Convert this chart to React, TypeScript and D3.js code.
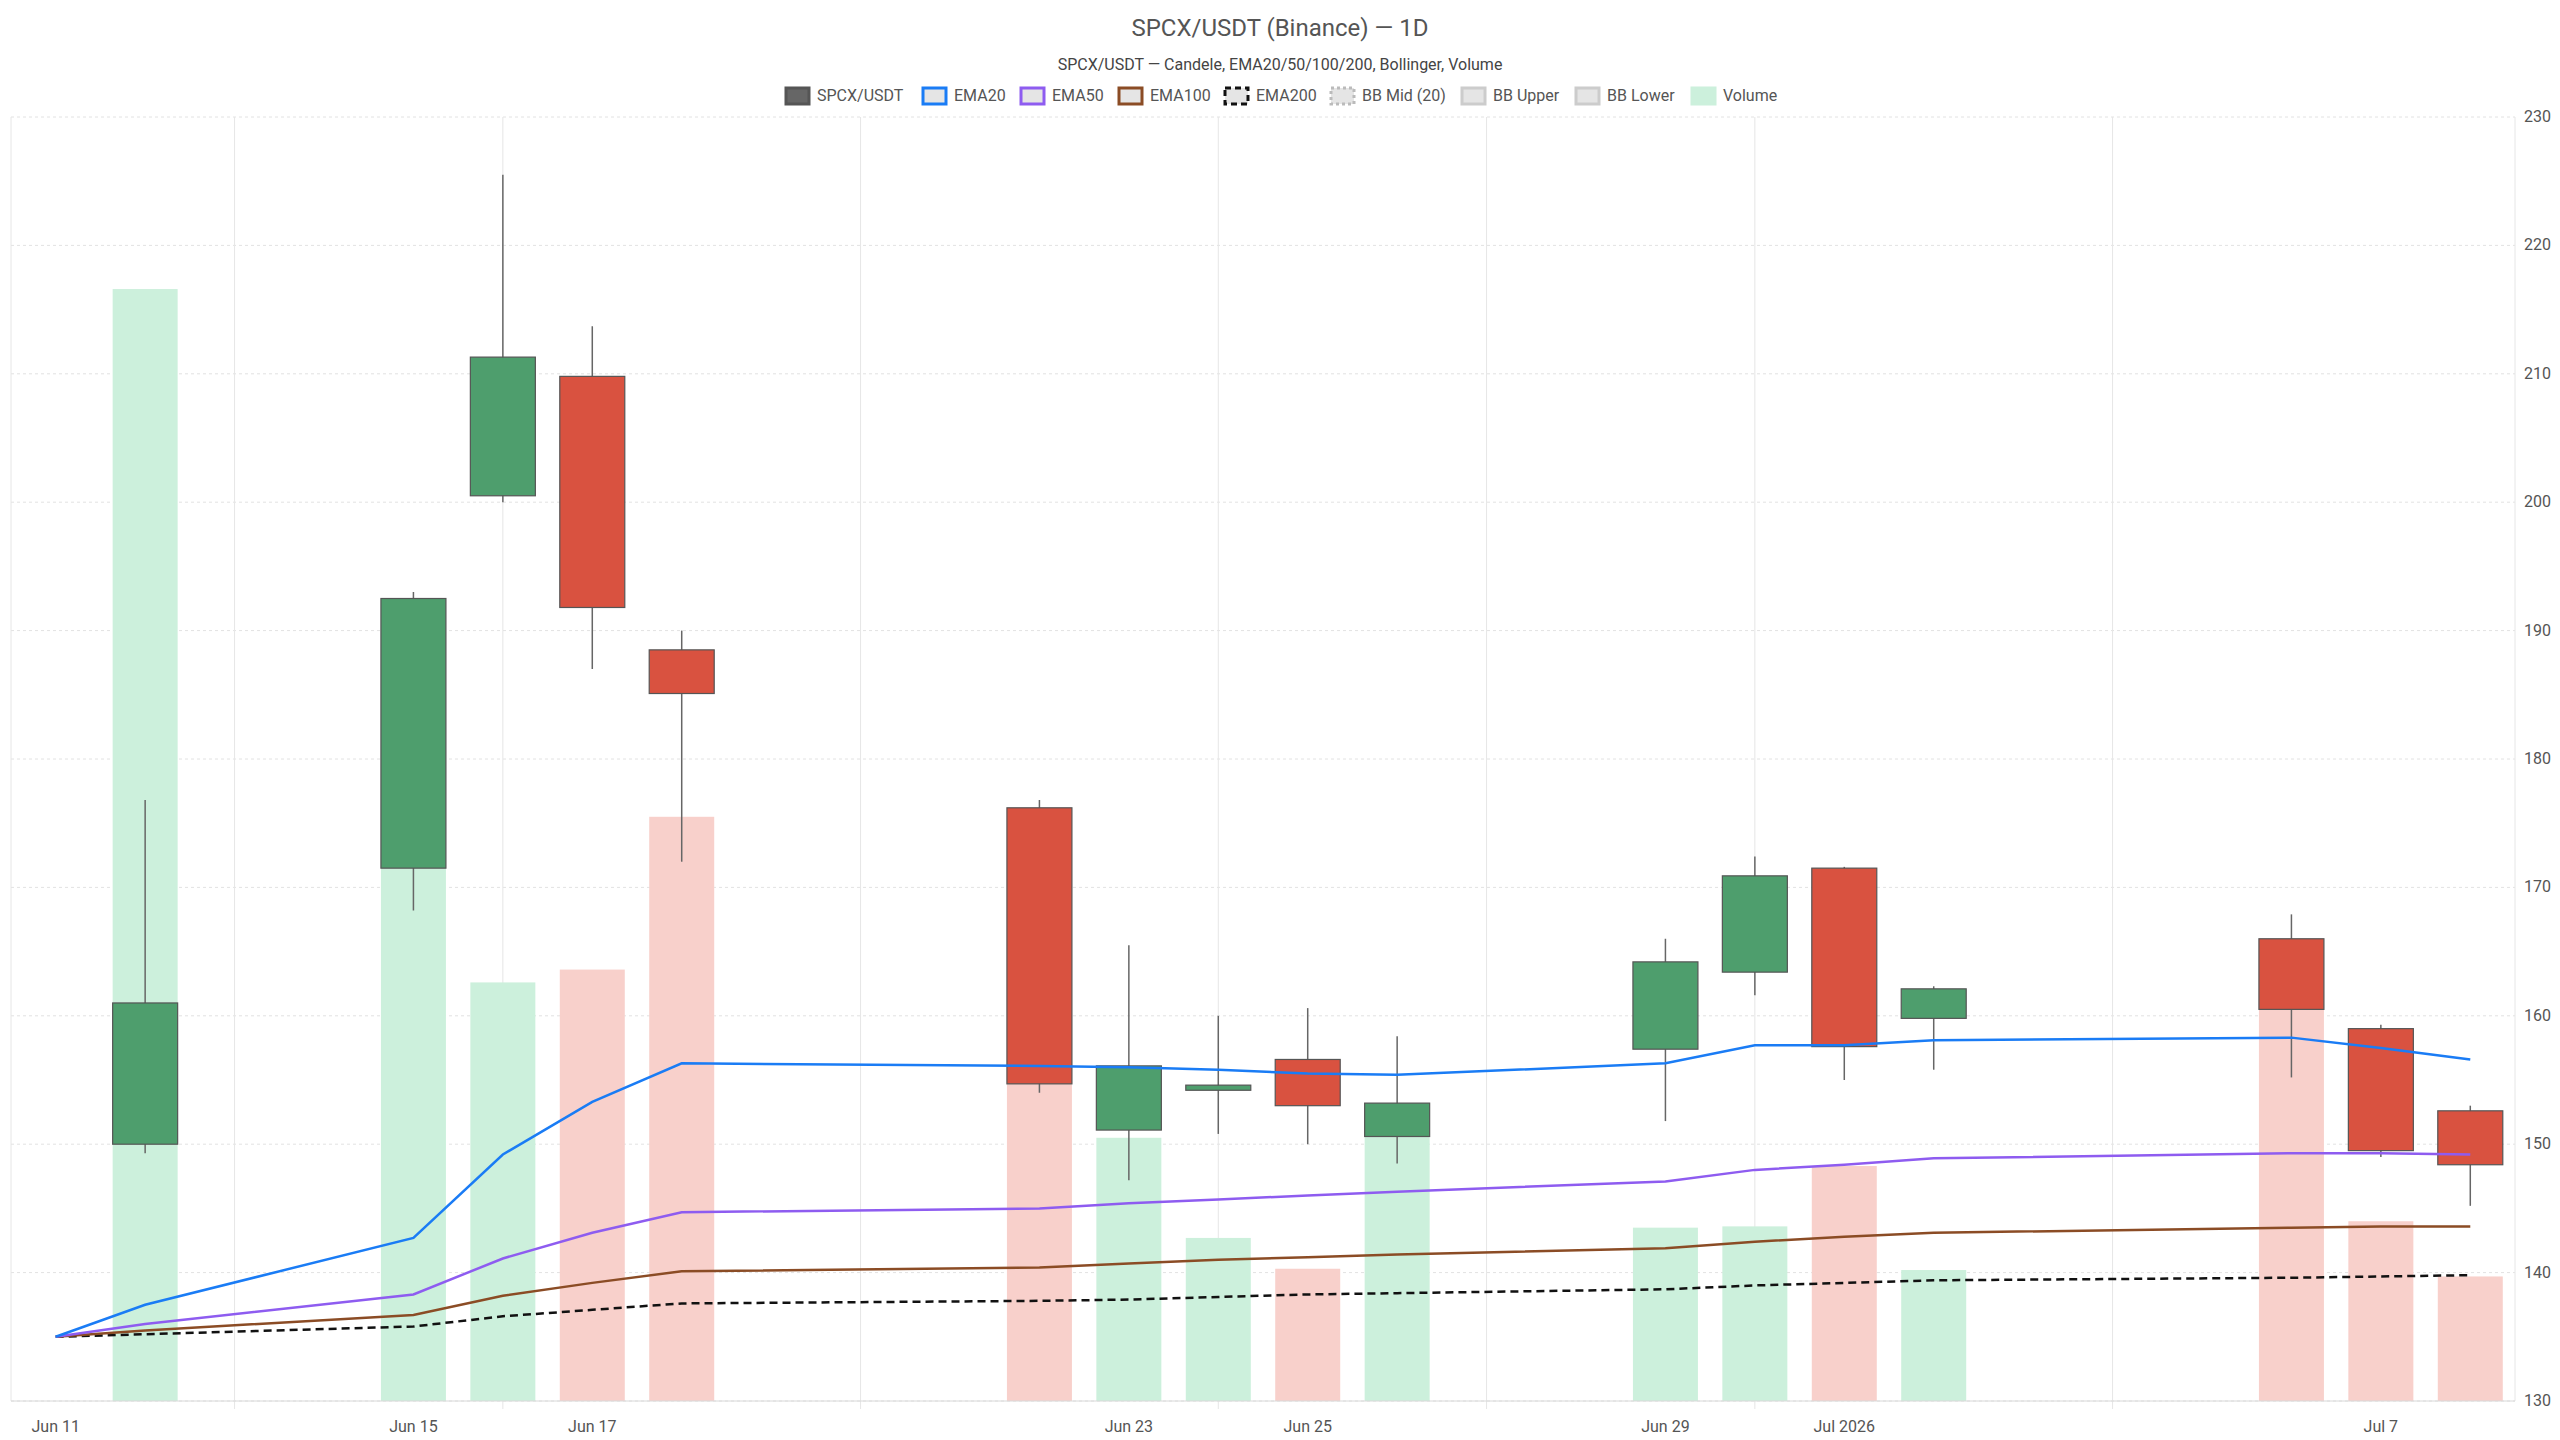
import React from 'react';
import * as d3 from 'd3';

const dates = ['2026-06-12','2026-06-15','2026-06-16','2026-06-17','2026-06-18','2026-06-22','2026-06-23','2026-06-24','2026-06-25','2026-06-26','2026-06-29','2026-06-30','2026-07-01','2026-07-02','2026-07-06','2026-07-07','2026-07-08'];
const open = [150,171.5,200.5,209.8,188.5,176.2,151.1,154.2,156.6,150.6,157.4,163.4,171.5,159.8,166,159,152.6];
const close = [161,192.5,211.3,191.8,185.1,154.7,156.1,154.6,153,153.2,164.2,170.9,157.6,162.1,160.5,149.5,148.4];
const high = [176.8,193,225.5,213.7,190,176.8,165.5,160,160.6,158.4,166,172.4,171.6,162.3,167.9,159.3,153];
const low = [149.3,168.2,200,187,172,154,147.2,150.8,150,148.5,151.8,161.6,155,155.8,155.2,149,145.2];
const volume = [86.6,41.6,32.6,33.6,45.5,25,20.5,12.7,10.3,20.6,13.5,13.6,18.3,10.2,30.5,14,9.7];

const lineDates = ['2026-06-11', ...dates];
const ema20 = [135,137.5,142.7,149.2,153.3,156.3,156.1,156.0,155.8,155.5,155.4,156.3,157.7,157.7,158.1,158.3,157.5,156.6];
const ema50 = [135,136,138.3,141.1,143.1,144.7,145.0,145.4,145.7,146.0,146.3,147.1,148.0,148.4,148.9,149.3,149.3,149.2];
const ema100 = [135,135.5,136.7,138.2,139.2,140.1,140.4,140.7,141.0,141.2,141.4,141.9,142.4,142.8,143.1,143.5,143.6,143.6];
const ema200 = [135,135.2,135.8,136.6,137.1,137.6,137.8,137.9,138.1,138.3,138.4,138.7,139.0,139.2,139.4,139.6,139.7,139.8];

const yTicks = [130,140,150,160,170,180,190,200,210,220,230];
const xTickDates = ['2026-06-11','2026-06-15','2026-06-17','2026-06-23','2026-06-25','2026-06-29','2026-07-01','2026-07-07'];
const xTickLabels = ['Jun 11','Jun 15','Jun 17','Jun 23','Jun 25','Jun 29','Jul 2026','Jul 7'];
const xGridDates = ['2026-06-13','2026-06-16','2026-06-20','2026-06-24','2026-06-27','2026-06-30','2026-07-04'];

const legendItems = [
  { label: 'SPCX/USDT', fill: '#666', stroke: '#555', dash: '' },
  { label: 'EMA20', fill: '#e5e5e5', stroke: '#1a7cf5', dash: '' },
  { label: 'EMA50', fill: '#e5e5e5', stroke: '#8e5cf0', dash: '' },
  { label: 'EMA100', fill: '#e5e5e5', stroke: '#8b4c25', dash: '' },
  { label: 'EMA200', fill: '#e5e5e5', stroke: '#111', dash: '6,4' },
  { label: 'BB Mid (20)', fill: '#e5e5e5', stroke: '#bbb', dash: '3,3' },
  { label: 'BB Upper', fill: '#e5e5e5', stroke: '#ccc', dash: '' },
  { label: 'BB Lower', fill: '#e5e5e5', stroke: '#ccc', dash: '' },
  { label: 'Volume', fill: '#ccf0dc', stroke: '#ccf0dc', dash: '' },
];
const legendX = [785, 922, 1020, 1118, 1224, 1330, 1461, 1575, 1691];

const W = 2560, H = 1440;
const left = 11, right = 2515, top = 117, bottom = 1401;
const parse = d3.utcParse('%Y-%m-%d');
const HALF = 12 * 3600 * 1000;

export default function App() {
  const x = d3.scaleUtc()
    .domain([+parse('2026-06-11')! - HALF, +parse('2026-07-08')! + HALF])
    .range([left, right]);
  const y = d3.scaleLinear().domain([130, 230]).range([bottom, top]);
  const vy = d3.scaleLinear().domain([0, 100]).range([bottom, top]);
  const bw = 65;
  const green = '#4e9e6d', red = '#d95240';
  const line = (vals: number[]) => d3.line<number>()
    .x((_, i) => x(parse(lineDates[i])!))
    .y(v => y(v))(vals) || '';
  const font = 'Roboto, "Liberation Sans", sans-serif';

  return (
    <svg width={W} height={H} style={{ position: 'absolute', left: 0, top: 0, background: '#fff', fontFamily: font }}>
      <text x={W / 2} y={36} textAnchor="middle" fontSize={24} fill="#555">SPCX/USDT (Binance) — 1D</text>
      <text x={W / 2} y={70} textAnchor="middle" fontSize={16} fill="#444">SPCX/USDT — Candele, EMA20/50/100/200, Bollinger, Volume</text>
      {legendItems.map((it, i) => (
        <g key={it.label} transform={`translate(${legendX[i]},87)`}>
          <rect x={1} y={1} width={23} height={16} fill={it.fill} stroke={it.stroke} strokeWidth={3} strokeDasharray={it.dash} />
          <text x={32} y={14} fontSize={16} fill="#555">{it.label}</text>
        </g>
      ))}
      {yTicks.map(t => (
        <g key={t}>
          <line x1={left} x2={right} y1={y(t)} y2={y(t)} stroke="#e2e2e2" strokeDasharray="3,3" />
          <text x={2524} y={y(t) + 5} fontSize={16} fill="#555">{t}</text>
        </g>
      ))}
      {xGridDates.map(d => (
        <line key={d} x1={x(parse(d)!)} x2={x(parse(d)!)} y1={top} y2={bottom + 8} stroke="#e6e6e6" />
      ))}
      <line x1={left} x2={left} y1={top} y2={bottom} stroke="#e6e6e6" />
      <line x1={right} x2={right} y1={top} y2={bottom} stroke="#e6e6e6" />
      {dates.map((d, i) => (
        <rect key={'v' + d} x={x(parse(d)!) - bw / 2} y={vy(volume[i])} width={bw} height={bottom - vy(volume[i])}
          fill={close[i] >= open[i] ? '#ccf0dc' : '#f8d0cb'} />
      ))}
      <line x1={left} x2={right} y1={bottom} y2={bottom} stroke="#d8d8d8" />
      {xTickDates.map((d, i) => (
        <text key={d} x={x(parse(d)!)} y={1432} textAnchor="middle" fontSize={16} fill="#555">{xTickLabels[i]}</text>
      ))}
      {dates.map((d, i) => {
        const cx = x(parse(d)!);
        const up = close[i] >= open[i];
        const yt = y(Math.max(open[i], close[i])), yb = y(Math.min(open[i], close[i]));
        return (
          <g key={'c' + d}>
            <line x1={cx} x2={cx} y1={y(high[i])} y2={y(low[i])} stroke="#666" strokeWidth={1.5} />
            <rect x={cx - bw / 2} y={yt} width={bw} height={Math.max(yb - yt, 2)} fill={up ? green : red} stroke="#555" strokeWidth={1.2} />
          </g>
        );
      })}
      <path d={line(ema200)} fill="none" stroke="#111" strokeWidth={2.5} strokeDasharray="8,5" />
      <path d={line(ema100)} fill="none" stroke="#8b4c25" strokeWidth={2.5} />
      <path d={line(ema50)} fill="none" stroke="#8e5cf0" strokeWidth={2.5} />
      <path d={line(ema20)} fill="none" stroke="#1a7cf5" strokeWidth={2.5} />
    </svg>
  );
}
